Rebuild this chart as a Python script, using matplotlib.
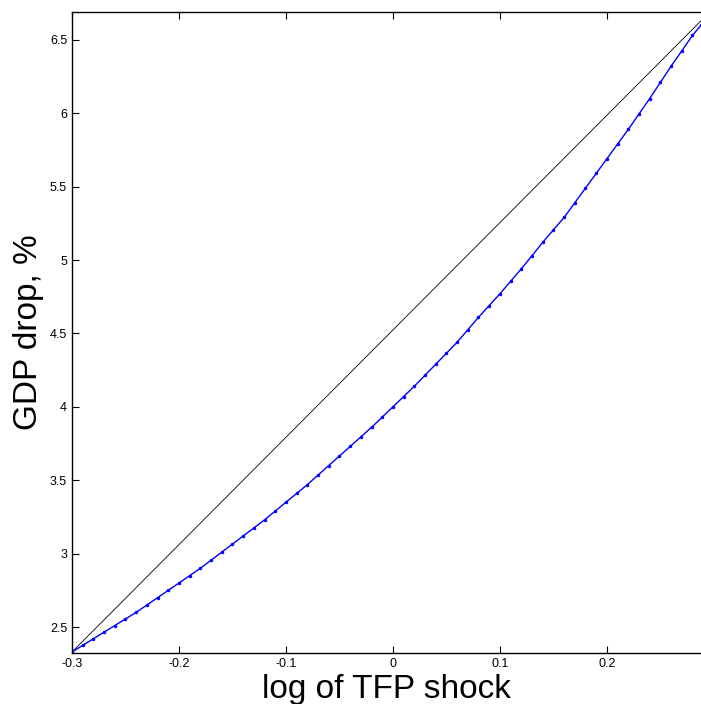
import numpy as np
import matplotlib.pyplot as plt

plt.rcParams['font.family'] = ['Liberation Sans', 'DejaVu Sans']

# log TFP shock and GDP drop (%)
shock = [-0.30, -0.29, -0.28, -0.27, -0.26, -0.25, -0.24, -0.23, -0.22, -0.21,
         -0.20, -0.19, -0.18, -0.17, -0.16, -0.15, -0.14, -0.13, -0.12, -0.11,
         -0.10, -0.09, -0.08, -0.07, -0.06, -0.05, -0.04, -0.03, -0.02, -0.01,
         0.00, 0.01, 0.02, 0.03, 0.04, 0.05, 0.06, 0.07, 0.08, 0.09,
         0.10, 0.11, 0.12, 0.13, 0.14, 0.15, 0.16, 0.17, 0.18, 0.19,
         0.20, 0.21, 0.22, 0.23, 0.24, 0.25, 0.26, 0.27, 0.28, 0.288]
gdp_drop = [2.33, 2.375, 2.42, 2.465, 2.51, 2.555, 2.60, 2.65, 2.70, 2.75,
            2.80, 2.85, 2.90, 2.955, 3.01, 3.065, 3.12, 3.175, 3.23, 3.29,
            3.35, 3.41, 3.47, 3.535, 3.60, 3.665, 3.73, 3.795, 3.86, 3.93,
            4.00, 4.07, 4.14, 4.215, 4.29, 4.365, 4.44, 4.525, 4.61, 4.69,
            4.77, 4.855, 4.94, 5.03, 5.12, 5.205, 5.29, 5.39, 5.49, 5.59,
            5.69, 5.79, 5.89, 5.995, 6.10, 6.21, 6.32, 6.425, 6.53, 6.60]

# straight reference line between the end points
line_x = [-0.30, 0.288]
line_y = [2.33, 6.63]

xticks = [-0.3, -0.2, -0.1, 0, 0.1, 0.2]
xticklabels = ['-0.3', '-0.2', '-0.1', '0', '0.1', '0.2']
yticks = [2.5, 3, 3.5, 4, 4.5, 5, 5.5, 6, 6.5]
yticklabels = ['2.5', '3', '3.5', '4', '4.5', '5', '5.5', '6', '6.5']

fig = plt.figure(figsize=(7.01, 7.04), dpi=100)
ax = fig.add_axes([72/701, 1 - 653/704, 1 - 72/701, (653 - 12)/704])

ax.plot(line_x, line_y, color='black', lw=0.6)
ax.plot(shock, gdp_drop, color='blue', lw=1.0, marker='.', markersize=3)

ax.set_xlim(-0.3, 0.288)
ax.set_ylim(2.323, 6.69)
ax.set_xticks(xticks)
ax.set_xticklabels(xticklabels)
ax.set_yticks(yticks)
ax.set_yticklabels(yticklabels)
ax.tick_params(direction='in', top=True, right=False, labelsize=9, length=5, width=0.8)
ax.spines['right'].set_visible(False)
for s in ['left', 'top', 'bottom']:
    ax.spines[s].set_linewidth(1.0)

ax.set_xlabel('log of TFP shock', fontsize=24, labelpad=3)
ax.set_ylabel('GDP drop, %', fontsize=24, labelpad=4)

fig.savefig('out.png', dpi=100)
